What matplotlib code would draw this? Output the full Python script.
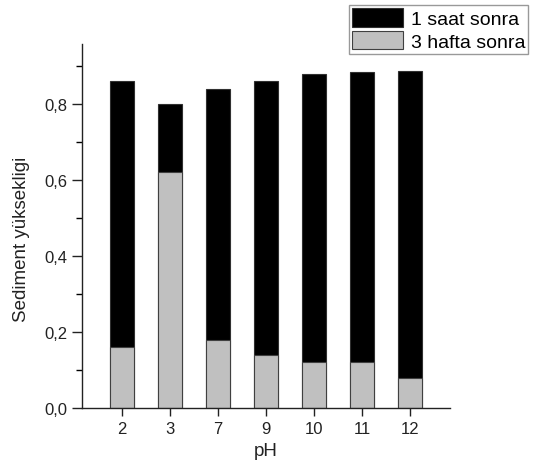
import matplotlib
matplotlib.use("Agg")
import matplotlib.pyplot as plt
from matplotlib.ticker import MultipleLocator, FuncFormatter
import numpy as np

plt.rcParams['font.family'] = ['Liberation Sans', 'DejaVu Sans']

ph_labels = ['2', '3', '7', '9', '10', '11', '12']
saat_1 = [0.86, 0.80, 0.84, 0.86, 0.88, 0.885, 0.888]
hafta_3 = [0.16, 0.62, 0.18, 0.14, 0.12, 0.12, 0.08]

fig = plt.figure(figsize=(5.37, 4.64), dpi=100)
ax = fig.add_axes([82/537, 1-409/464, (450-82)/537, (409-45)/464])

x = np.arange(len(ph_labels))
ax.bar(x, saat_1, width=0.5, color='black', edgecolor='#303030', linewidth=0.8, label='1 saat sonra')
ax.bar(x, hafta_3, width=0.5, color='#c0c0c0', edgecolor='#404040', linewidth=0.8, label='3 hafta sonra')

ax.set_xlim(-0.83, 6.83)
ax.set_ylim(0, 0.958)
ax.set_xticks(x)
ax.set_xticklabels(ph_labels)
ax.yaxis.set_major_locator(MultipleLocator(0.2))
ax.yaxis.set_minor_locator(MultipleLocator(0.1))
ax.yaxis.set_major_formatter(FuncFormatter(lambda v, p: f"{v:.1f}".replace('.', ',')))

for s in ['top', 'right']:
    ax.spines[s].set_visible(False)
for s in ['left', 'bottom']:
    ax.spines[s].set_linewidth(1.0)
    ax.spines[s].set_color('#222222')

ax.tick_params(axis='both', direction='out', labelsize=12, colors='#222222')
ax.tick_params(axis='y', which='major', length=7, width=1.0)
ax.tick_params(axis='y', which='minor', length=4, width=1.0)
ax.tick_params(axis='x', which='major', length=6, width=1.0)

ax.set_xlabel('pH', fontsize=13.5, color='#222222', labelpad=4)
ax.set_ylabel('Sediment yüksekligi', fontsize=13.5, color='#222222')
ax.yaxis.set_label_coords(-0.142, 0.467)

leg = fig.legend(loc='upper right', bbox_to_anchor=(528/537, 1-6/464), fontsize=14,
                 frameon=True, fancybox=False, edgecolor='#999999', framealpha=1,
                 handlelength=2.6, handleheight=1.1, handletextpad=0.4,
                 labelspacing=0.15, borderpad=0.15, borderaxespad=0)
leg.get_frame().set_linewidth(1.0)

fig.savefig('out.png', dpi=100)
